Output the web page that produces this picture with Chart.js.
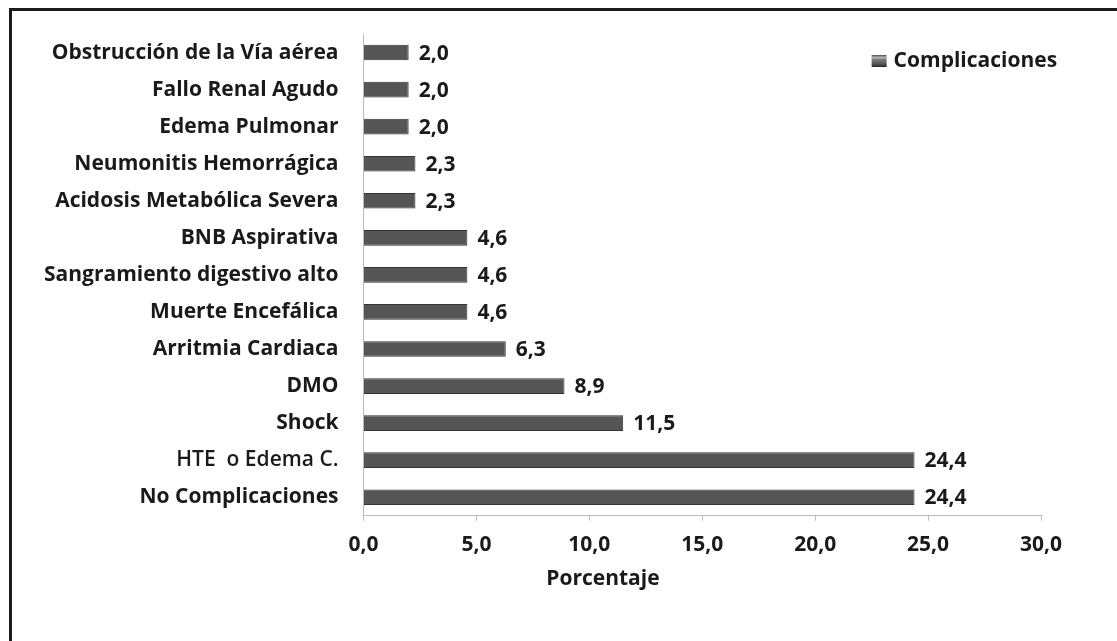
<!DOCTYPE html>
<html>
<head>
<meta charset="utf-8">
<script src="https://cdn.jsdelivr.net/npm/chart.js@4.4.1/dist/chart.umd.min.js"></script>
<style>
  html, body { margin: 0; padding: 0; background: #fff; }
  #marco { position: absolute; left: 9px; top: 8px; right: 0; bottom: 0;
           border-top: 3px solid #1a1a1a; border-left: 3px solid #1a1a1a; }
  #wrap { position: absolute; left: 0; top: 0; width: 1117px; height: 641px; }
</style>
</head>
<body>
<div id="marco"></div>
<div id="wrap"><canvas id="grafico" width="1117" height="641"></canvas></div>
<script>
const categorias = ['Obstrucción de la Vía aérea', 'Fallo Renal Agudo', 'Edema Pulmonar',
    'Neumonitis Hemorrágica', 'Acidosis Metabólica Severa', 'BNB Aspirativa',
    'Sangramiento digestivo alto', 'Muerte Encefálica', 'Arritmia Cardiaca', 'DMO',
    'Shock', 'HTE  o Edema C.', 'No Complicaciones'];
const porcentajes = [2.0, 2.0, 2.0, 2.3, 2.3, 4.6, 4.6, 4.6, 6.3, 8.9, 11.5, 24.4, 24.4];
const serie = 'Complicaciones';
const ejeX = { min: 0, max: 30, paso: 5 };
const tituloX = 'Porcentaje';

const fuente = 'Open Sans';
const coma = v => Number(v).toFixed(1).replace('.', ',');

// gray bar with a light stripe near the top, like the excel 3d shading
function sombra(ctx, y0, y1) {
    const g = ctx.createLinearGradient(0, y0, 0, y1);
    g.addColorStop(0, '#4a4a4a');
    g.addColorStop(0.2, '#b4b4b4');
    g.addColorStop(0.4, '#7a7a7a');
    g.addColorStop(0.75, '#555');
    g.addColorStop(1, '#262626');
    return g;
}

const etiquetas = {
    id: 'etiquetas',
    afterDatasetsDraw(chart) {
        const ctx = chart.ctx;
        ctx.save();
        ctx.font = 'bold 21px ' + fuente;
        ctx.fillStyle = '#1a1a1a';
        ctx.textBaseline = 'middle';
        chart.getDatasetMeta(0).data.forEach((bar, i) => {
            ctx.fillText(coma(porcentajes[i]), bar.x + 10, bar.y + 1);
        });
        // legend, sits inside the plot in the top right corner
        const lx = chart.scales.x.getPixelForValue(22.5), ly = chart.chartArea.top + 27;
        ctx.fillStyle = sombra(ctx, ly - 6, ly + 6);
        ctx.fillRect(lx, ly - 6, 15, 12);
        ctx.fillStyle = '#1a1a1a';
        ctx.fillText(serie, lx + 22, ly);
        // axis title, excel centres it on the whole chart, not the plot
        ctx.textAlign = 'center';
        ctx.fillText(tituloX, chart.scales.x.getPixelForValue(10.6), chart.chartArea.bottom + 63);
        ctx.restore();
    }
};

new Chart(document.getElementById('grafico'), {
    type: 'bar',
    data: {
        labels: categorias,
        datasets: [{
            label: serie,
            data: porcentajes,
            backgroundColor: c => {
                const bar = c.chart.getDatasetMeta(0).data[c.dataIndex];
                if (!bar || bar.y === undefined) return '#555';
                return sombra(c.chart.ctx, bar.y - 8, bar.y + 8);
            },
            borderColor: '#333',
            borderWidth: 1,
            barPercentage: 0.9,
            categoryPercentage: 0.47
        }]
    },
    options: {
        indexAxis: 'y',
        responsive: false,
        animation: false,
        layout: { padding: { top: 34, right: 76, bottom: 71, left: 27 } },
        plugins: {
            legend: { display: false },
            tooltip: { enabled: false }
        },
        scales: {
            x: {
                min: ejeX.min,
                max: ejeX.max,
                ticks: {
                    stepSize: ejeX.paso,
                    callback: v => coma(v),
                    color: '#1a1a1a',
                    padding: 12,
                    font: { family: fuente, size: 21, weight: 'bold' }
                },
                grid: { drawOnChartArea: false, color: '#bbb', tickLength: 5 },
                border: { color: '#bbb', width: 1 }
            },
            y: {
                ticks: {
                    color: '#1a1a1a',
                    padding: 17,
                    font: c => ({ family: fuente, size: 21, weight: c.index === 11 ? '600' : 'bold' })
                },
                grid: { display: false },
                border: { display: true, color: '#bbb', width: 1 }
            }
        }
    },
    plugins: [etiquetas]
});
</script>
</body>
</html>
